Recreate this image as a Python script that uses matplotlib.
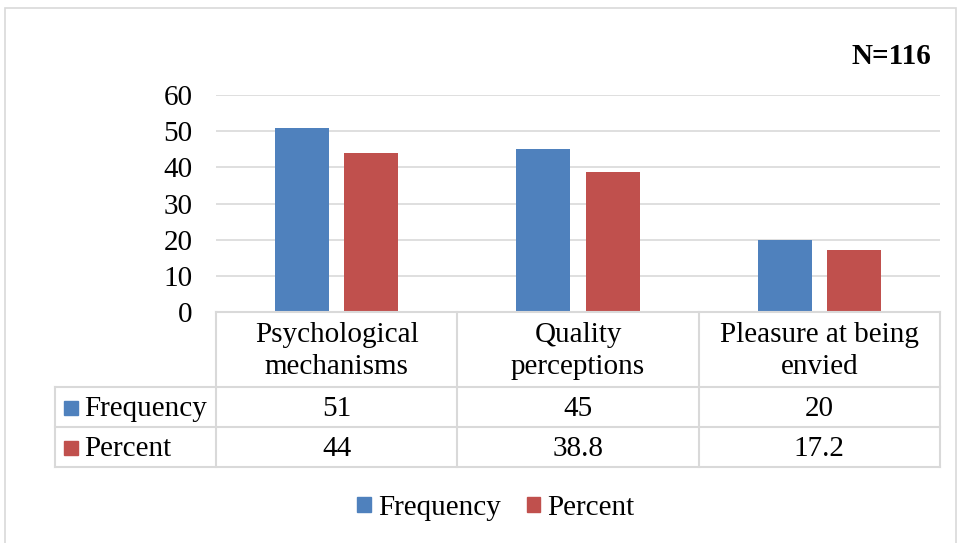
import matplotlib
matplotlib.use('Agg')
import matplotlib.pyplot as plt
from matplotlib.patches import Rectangle

plt.rcParams['font.family'] = ['Liberation Serif', 'DejaVu Serif']

categories = ['Psychological\nmechanisms', 'Quality\nperceptions', 'Pleasure at being\nenvied']
series_names = ['Frequency', 'Percent']
frequency = [51, 45, 20]
percent = [44, 38.8, 17.2]
yticks = [0, 10, 20, 30, 40, 50, 60]

colors = ['#4F81BD', '#C0504D']
grid_col = '#D9D9D9'
W, H = 958, 543
fs = 21

fig = plt.figure(figsize=(W / 100, H / 100), dpi=100)

def fx(px):
	return px / W

def fy(py):
	return 1 - py / H

# outer chart border
fig.patches.append(Rectangle((fx(5), fy(545)), fx(951), fy(8) - fy(545),
                             transform=fig.transFigure, fill=False,
                             edgecolor=grid_col, lw=1.2))

# plot area
ax = fig.add_axes([fx(216), fy(312), fx(940 - 216), fy(95) - fy(312)])
n = len(categories)
xs = list(range(n))
bw = 0.224
off = 0.144
ax.bar([x - off for x in xs], frequency, bw, color=colors[0], zorder=3)
ax.bar([x + off for x in xs], percent, bw, color=colors[1], zorder=3)
ax.set_xlim(-0.5, n - 0.5)
ax.set_ylim(0, 60)
ax.set_yticks(yticks)
ax.set_yticklabels([str(t) for t in yticks], fontsize=fs)
ax.tick_params(axis='y', length=0, pad=17)
ax.set_xticks([])
ax.grid(axis='y', color=grid_col, lw=1.2, zorder=0)
for s in ax.spines.values():
	s.set_visible(False)

# data table below the plot
tab = fig.add_axes([fx(55), fy(467), fx(940 - 55), fy(312) - fy(467)])
x0 = -0.5 - (216 - 55) / ((940 - 216) / n)
tab.set_xlim(x0, n - 0.5)
tab.set_ylim(0, 155)
tab.axis('off')
lk = dict(color=grid_col, lw=1.5, clip_on=False)
# horizontal lines
tab.plot([-0.5, n - 0.5], [155, 155], **lk)
for yy in [80, 40, 0]:
	tab.plot([x0, n - 0.5], [yy, yy], **lk)
# vertical lines
for i in range(n + 1):
	tab.plot([i - 0.5, i - 0.5], [0, 155], **lk)
tab.plot([x0, x0], [0, 80], **lk)

for i, c in enumerate(categories):
	tab.text(i, 116, c, ha='center', va='center', fontsize=fs,
	         linespacing=1.35)
rows = [frequency, percent]
row_y = [58, 18]
for r, vals in enumerate(rows):
	for i, v in enumerate(vals):
		tab.text(i, row_y[r], str(v), ha='center', va='center', fontsize=fs)
	tab.add_patch(Rectangle((x0 + 0.037, row_y[r] - 6), 0.058, 14,
	                        color=colors[r], clip_on=False))
	tab.text(x0 + 0.12, row_y[r], series_names[r], ha='left', va='center',
	         fontsize=fs)

# N label
fig.text(fx(931), fy(56), 'N=116', ha='right', va='center',
         fontsize=21, fontweight='bold')

# bottom legend
handles = [Rectangle((0, 0), 1, 1, color=c) for c in colors]
fig.legend(handles, series_names, loc='center', bbox_to_anchor=(fx(496), fy(508)),
           ncol=2, frameon=False, fontsize=fs, handlelength=0.45,
           handleheight=0.45, handletextpad=0.25, columnspacing=0.9)

fig.savefig('out.png', dpi=100)
